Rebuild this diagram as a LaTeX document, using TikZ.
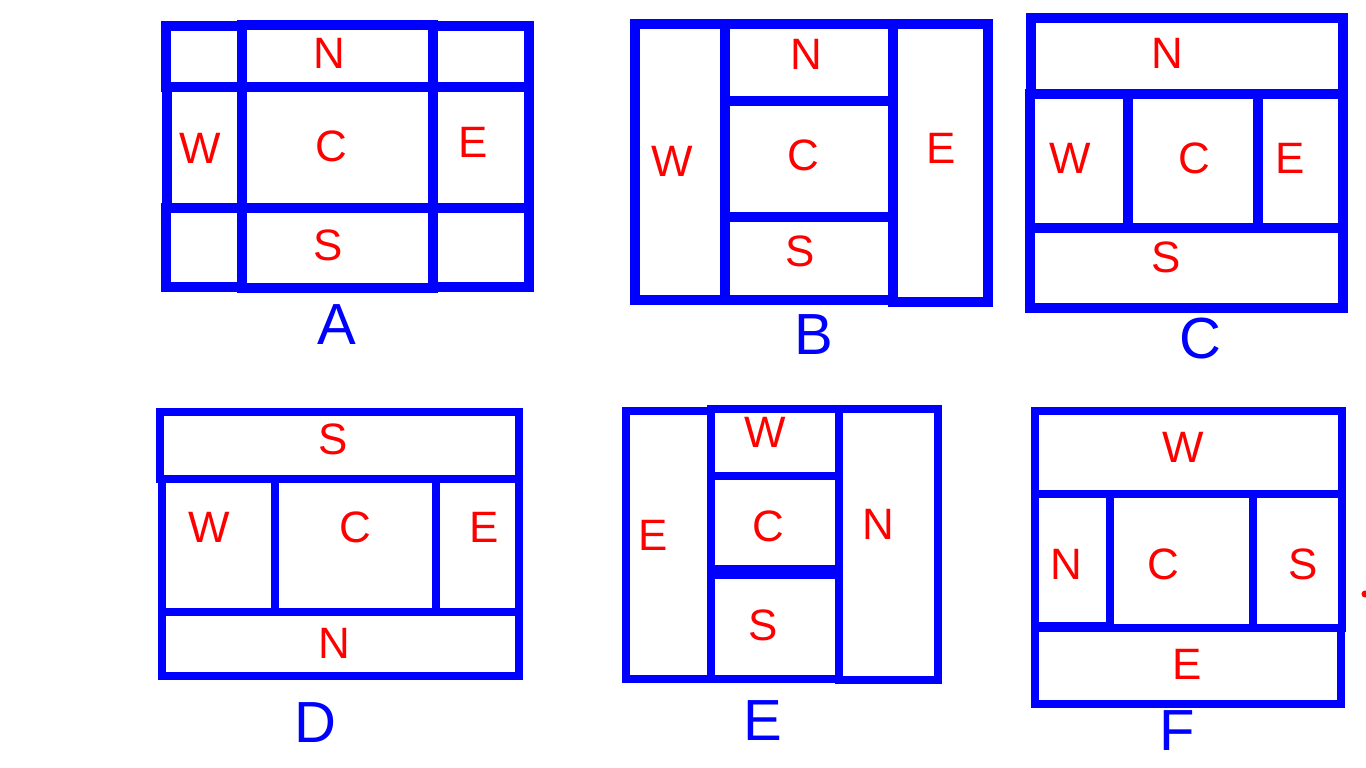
\documentclass[tikz,border=0pt]{standalone}
\usepackage{fontspec}
\setmainfont{Liberation Sans}
\tikzset{
    zone/.style={draw=blue, line width=2.85pt},
    thinzone/.style={draw=blue, line width=2.3pt},
    letter/.style={text=red, font=\fontsize{12.5}{14}\selectfont, inner sep=0pt},
    caption/.style={text=blue, font=\fontsize{16.5}{19}\selectfont, inner sep=0pt}
}
\begin{document}
\begin{tikzpicture}[x=0.01cm, y=-0.01cm]
\useasboundingbox (0,0) rectangle (1366,768);

% Layout A
\draw[zone] (166,26) rectangle (242,87);
\draw[zone] (242,25) rectangle (433,87);
\draw[zone] (433,26) rectangle (529,87);
\draw[zone] (167,87) rectangle (242,208);
\draw[zone] (242,87) rectangle (433,208);
\draw[zone] (433,87) rectangle (529,208);
\draw[zone] (166,208) rectangle (242,287);
\draw[zone] (242,208) rectangle (433,288);
\draw[zone] (433,208) rectangle (529,287);
\node[letter] (aN) at (329,53) {N};
\node[letter] (aW) at (200,148) {W};
\node[letter] (aC) at (331,146) {C};
\node[letter] (aE) at (473,142) {E};
\node[letter] (aS) at (328,245) {S};
\node[caption] (capA) at (337,325) {A};

% Layout B
\draw[zone] (635,24) rectangle (725,300);
\draw[zone] (725,24) rectangle (893,101);
\draw[zone] (725,101) rectangle (893,217);
\draw[zone] (725,217) rectangle (893,300);
\draw[zone] (893,24) rectangle (988,302);
\node[letter] (bN) at (806,54) {N};
\node[letter] (bW) at (672,161) {W};
\node[letter] (bC) at (803,155) {C};
\node[letter] (bE) at (941,148) {E};
\node[letter] (bS) at (800,251) {S};
\node[caption] (capB) at (814,335) {B};

% Layout C
\draw[zone] (1031,18) rectangle (1343,94);
\draw[zone] (1030,94) rectangle (1128,228);
\draw[zone] (1128,94) rectangle (1258,228);
\draw[zone] (1258,94) rectangle (1343,228);
\draw[zone] (1030,228) rectangle (1343,308);
\node[letter] (cN) at (1167,53) {N};
\node[letter] (cW) at (1070,158) {W};
\node[letter] (cC) at (1194,158) {C};
\node[letter] (cE) at (1290,158) {E};
\node[letter] (cS) at (1166,257) {S};
\node[caption] (capC) at (1200,339) {C};

% Layout D
\draw[thinzone] (160,412) rectangle (519,479);
\draw[thinzone] (162,479) rectangle (275,612);
\draw[thinzone] (275,479) rectangle (436,612);
\draw[thinzone] (436,479) rectangle (519,612);
\draw[thinzone] (162,612) rectangle (519,676);
\node[letter] (dS) at (333,439) {S};
\node[letter] (dW) at (209,527) {W};
\node[letter] (dC) at (355,527) {C};
\node[letter] (dE) at (484,527) {E};
\node[letter] (dN) at (334,643) {N};
\node[caption] (capD) at (315,723) {D};

% Layout E
\draw[thinzone] (626,411) rectangle (711,679);
\draw[thinzone] (711,409) rectangle (839,476);
\draw[thinzone] (711,476) rectangle (839,569);
\draw[thinzone] (711,575) rectangle (839,679);
\draw[thinzone] (839,409) rectangle (938,680);
\node[letter] (eE) at (653,535) {E};
\node[letter] (eW) at (765,432) {W};
\node[letter] (eC) at (768,526) {C};
\node[letter] (eS) at (763,625) {S};
\node[letter] (eN) at (878,524) {N};
\node[caption] (capE) at (763,721) {E};

% Layout F
\draw[thinzone] (1035,411) rectangle (1342,494);
\draw[thinzone] (1035,494) rectangle (1110,626);
\draw[thinzone] (1110,494) rectangle (1253,628);
\draw[thinzone] (1253,494) rectangle (1342,628);
\draw[thinzone] (1035,628) rectangle (1341,704);
\node[letter] (fW) at (1183,447) {W};
\node[letter] (fN) at (1066,564) {N};
\node[letter] (fC) at (1163,564) {C};
\node[letter] (fS) at (1303,564) {S};
\node[letter] (fE) at (1187,664) {E};
\node[caption] (capF) at (1177,731) {F};

% stray mark at the right edge
\fill[red] (1365,594) circle (1pt);
\end{tikzpicture}
\end{document}
